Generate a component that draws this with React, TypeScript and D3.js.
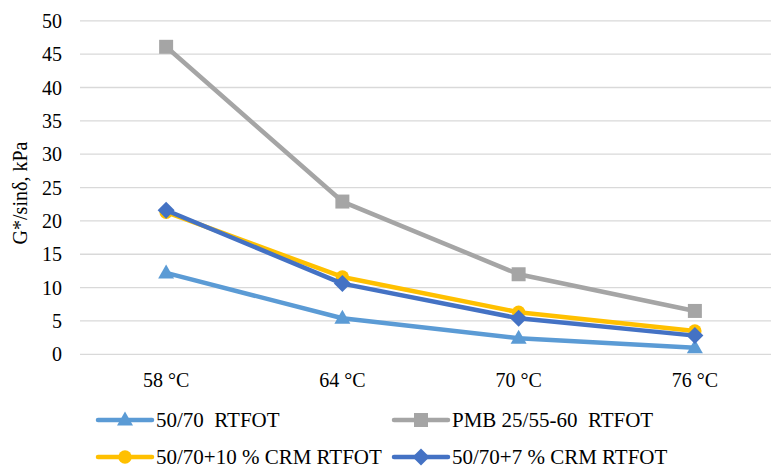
import React from "react";
import * as d3 from "d3";

const categories = ["58 °C", "64 °C", "70 °C", "76 °C"];
const seriesNames = ["50/70  RTFOT", "PMB 25/55-60  RTFOT", "50/70+10 % CRM RTFOT", "50/70+7 % CRM RTFOT"];
const values5070 = [12.2, 5.4, 2.4, 1.0];
const valuesPMB = [46.1, 22.9, 12.0, 6.5];
const valuesCRM10 = [21.3, 11.6, 6.3, 3.5];
const valuesCRM7 = [21.6, 10.6, 5.4, 2.8];
const yTicks = [0, 5, 10, 15, 20, 25, 30, 35, 40, 45, 50];
const colors = ["#5B9BD5", "#A5A5A5", "#FFC000", "#4472C4"];
const markers = ["triangle", "square", "circle", "diamond"];
const allValues = [values5070, valuesPMB, valuesCRM10, valuesCRM7];

const W = 771;
const H = 468;
const FONT = "'Liberation Serif', 'Times New Roman', serif";

function Marker({ type, x, y, color }: { type: string; x: number; y: number; color: string }) {
  let p = "";
  if (type === "triangle") p = "M0,-8.5L8,5.5L-8,5.5Z";
  else if (type === "square") p = "M-7,-7H7V7H-7Z";
  else if (type === "circle") p = d3.symbol().type(d3.symbolCircle).size(140)() || "";
  else p = "M0,-8.5L8.5,0L0,8.5L-8.5,0Z";
  return <path d={p} transform={`translate(${x},${y})`} fill={color} />;
}

export default function App() {
  const x = d3.scaleBand<string>().domain(categories).range([78, 783]).paddingInner(0).paddingOuter(0);
  const y = d3.scaleLinear().domain([0, 50]).range([354.3, 20.8]);
  const cx = (c: string) => (x(c) as number) + x.bandwidth() / 2;
  const line = d3
    .line<number>()
    .x((_, i) => cx(categories[i]))
    .y((v) => y(v));

  const legendPos = [
    { lx: 98, ly: 420 },
    { lx: 394, ly: 420 },
    { lx: 98, ly: 457 },
    { lx: 394, ly: 457 },
  ];

  return (
    <svg width={W} height={H} style={{ position: "absolute", left: 0, top: 0, background: "#fff" }} fontFamily={FONT}>
      <rect x={0} y={0} width={W} height={H} fill="#fff" />
      {yTicks.map((t) => (
        <g key={t}>
          <line x1={80} x2={783} y1={y(t)} y2={y(t)} stroke="#D9D9D9" strokeWidth={1.3} />
          <text x={62} y={y(t)} dy="0.35em" textAnchor="end" fontSize={20} fill="#000">
            {t}
          </text>
        </g>
      ))}
      <text transform={`translate(20,${193}) rotate(-90)`} textAnchor="middle" dy="0.35em" fontSize={20} fill="#000">
        G*/sinδ, kPa
      </text>
      {categories.map((c) => (
        <text key={c} x={cx(c)} y={380} dy="0.35em" textAnchor="middle" fontSize={20} fill="#000">
          {c}
        </text>
      ))}
      {allValues.map((vals, si) => (
        <g key={si}>
          <path d={line(vals) || ""} fill="none" stroke={colors[si]} strokeWidth={4.5} strokeLinejoin="round" />
          {vals.map((v, i) => (
            <Marker key={i} type={markers[si]} x={cx(categories[i])} y={y(v)} color={colors[si]} />
          ))}
        </g>
      ))}
      {seriesNames.map((n, si) => {
        const { lx, ly } = legendPos[si];
        return (
          <g key={n}>
            <line x1={lx} x2={lx + 54} y1={ly} y2={ly} stroke={colors[si]} strokeWidth={4.5} strokeLinecap="round" />
            <Marker type={markers[si]} x={lx + 27} y={ly} color={colors[si]} />
            <text x={lx + 58} y={ly} dy="0.33em" fontSize={21} fill="#000" style={{ whiteSpace: "pre" }}>
              {n}
            </text>
          </g>
        );
      })}
    </svg>
  );
}
